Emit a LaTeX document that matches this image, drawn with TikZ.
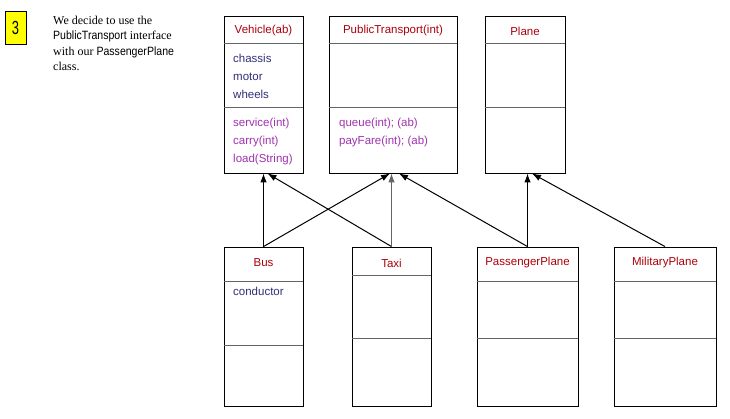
\documentclass[tikz,border=0pt]{standalone}
\usepackage{fontspec}
\setmainfont{Liberation Serif}
\setsansfont{Liberation Sans}
\newfontfamily\narrowsans[FakeStretch=0.88]{Liberation Sans}
\newfontfamily\numsans[FakeStretch=0.68]{Liberation Sans}
\usetikzlibrary{arrows.meta}
\definecolor{hdrred}{RGB}{170,0,12}
\definecolor{attrblue}{RGB}{48,48,120}
\definecolor{methpurple}{RGB}{160,50,175}
\definecolor{divgray}{RGB}{100,100,100}
\definecolor{notey}{RGB}{255,255,0}
\begin{document}
\begin{tikzpicture}[x=1pt,y=-1pt,
  classbox/.style 2 args={draw=black, line width=0.9pt, rectangle, inner sep=0pt,
    minimum width=#1, minimum height=#2},
  hdrtext/.style={text=hdrred, font=\sffamily\fontsize{11.5}{13}\selectfont, inner sep=0pt},
  attrtext/.style={text=attrblue, font=\sffamily\fontsize{11.5}{13}\selectfont, inner sep=0pt, anchor=base west},
  methtext/.style={text=methpurple, font=\sffamily\fontsize{11.5}{13}\selectfont, inner sep=0pt, anchor=base west},
  divider/.style={draw=divgray, line width=1.5pt},
  inherit/.style={draw=black, line width=1pt, -{Latex[length=9pt,width=6.5pt]}},
  notetext/.style={font=\fontsize{12}{14}\selectfont, inner sep=0pt, anchor=base west}
]
\useasboundingbox[fill=white] (0,0) rectangle (730,418);

% note
\node[draw=black, fill=notey, line width=0.8pt, minimum width=21pt, minimum height=33pt, inner sep=0pt,
  font=\numsans\fontsize{19}{21}\selectfont] (num) at (15.5,27.5) {3};
\node[notetext] (l1) at (53,24) {We decide to use the};
\node[notetext] (l2) at (53,39) {{\narrowsans PublicTransport} interface};
\node[notetext] (l3) at (53,55) {with our {\narrowsans PassengerPlane}};
\node[notetext] (l4) at (53,70) {class.};

% top classes
\node[classbox={79pt}{157pt}] (vehicle) at (263.5,94.5) {};
\node[classbox={128pt}{157pt}] (pt) at (393,94.5) {};
\node[classbox={80pt}{157pt}] (plane) at (525,94.5) {};

\draw[divider] ([yshift=-28pt]vehicle.north west) -- ([yshift=-28pt]vehicle.north east);
\draw[divider] ([yshift=-92pt]vehicle.north west) -- ([yshift=-92pt]vehicle.north east);
\draw[divider] ([yshift=-28pt]pt.north west) -- ([yshift=-28pt]pt.north east);
\draw[divider] ([yshift=-92pt]pt.north west) -- ([yshift=-92pt]pt.north east);
\draw[divider] ([yshift=-28pt]plane.north west) -- ([yshift=-28pt]plane.north east);
\draw[divider] ([yshift=-92pt]plane.north west) -- ([yshift=-92pt]plane.north east);

\node[hdrtext] (vehicleh) at (263.5,31) {Vehicle(ab)};
\node[hdrtext] (pth) at (393,31) {PublicTransport(int)};
\node[hdrtext] (planeh) at (525,31) {Plane};

\node[attrtext] (va1) at (233,62) {chassis};
\node[attrtext] (va2) at (233,80) {motor};
\node[attrtext] (va3) at (233,98) {wheels};
\node[methtext] (vm1) at (233,126) {service(int)};
\node[methtext] (vm2) at (233,144) {carry(int)};
\node[methtext] (vm3) at (233,162) {load(String)};
\node[methtext] (pm1) at (339,126) {queue(int); (ab)};
\node[methtext] (pm2) at (339,144) {payFare(int); (ab)};

% bottom classes
\node[classbox={79pt}{159pt}] (bus) at (263.5,326.5) {};
\node[classbox={79pt}{159pt}] (taxi) at (391.5,326.5) {};
\node[classbox={101pt}{159pt}] (pplane) at (527.5,326.5) {};
\node[classbox={102pt}{159pt}] (mplane) at (665,326.5) {};

\draw[divider] ([yshift=-35pt]bus.north west) -- ([yshift=-35pt]bus.north east);
\draw[divider] ([yshift=-99pt]bus.north west) -- ([yshift=-99pt]bus.north east);
\draw[divider] ([yshift=-29pt]taxi.north west) -- ([yshift=-29pt]taxi.north east);
\draw[divider] ([yshift=-92pt]taxi.north west) -- ([yshift=-92pt]taxi.north east);
\draw[divider] ([yshift=-35pt]pplane.north west) -- ([yshift=-35pt]pplane.north east);
\draw[divider] ([yshift=-92pt]pplane.north west) -- ([yshift=-92pt]pplane.north east);
\draw[divider] ([yshift=-35pt]mplane.north west) -- ([yshift=-35pt]mplane.north east);
\draw[divider] ([yshift=-92pt]mplane.north west) -- ([yshift=-92pt]mplane.north east);

\node[hdrtext] (bush) at (263.5,263) {Bus};
\node[hdrtext] (taxih) at (391.5,263) {Taxi};
\node[hdrtext] (pplaneh) at (527.5,263) {PassengerPlane};
\node[hdrtext] (mplaneh) at (665,263) {MilitaryPlane};
\node[attrtext] (ba1) at (233,295) {conductor};

% inheritance arrows
\draw[inherit] (bus.north) -- (bus.north |- vehicle.south);
\draw[inherit] (bus.north) -- ([xshift=-3pt]pt.south);
\draw[inherit] (taxi.north) -- ([xshift=4pt]vehicle.south);
\draw[inherit, draw=divgray] (taxi.north) -- (taxi.north |- pt.south);
\draw[inherit] (pplane.north) -- ([xshift=6pt]pt.south);
\draw[inherit] (pplane.north) -- (pplane.north |- plane.south);
\draw[inherit] (mplane.north) -- ([xshift=7pt]plane.south);
\end{tikzpicture}
\end{document}
